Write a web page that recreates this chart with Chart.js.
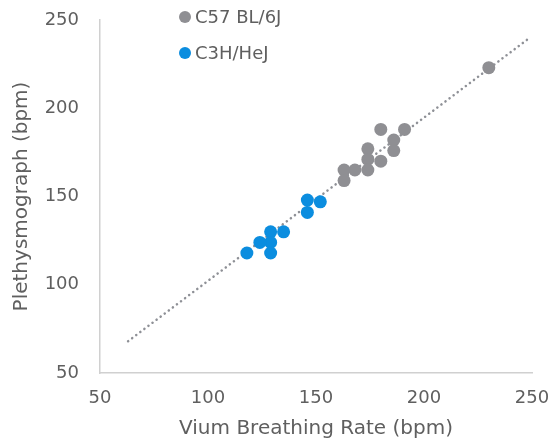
<!DOCTYPE html>
<html>
<head>
<meta charset="utf-8">
<script src="https://cdn.jsdelivr.net/npm/chart.js@4/dist/chart.umd.min.js"></script>
<style>
  html, body { margin: 0; padding: 0; background: #fff; }
  #wrap { width: 558px; height: 443px; }
</style>
</head>
<body>
<div id="wrap"><canvas id="myChart" width="558" height="443"></canvas></div>
<script>
const c57X = [230, 180, 191, 186, 186, 174, 174, 180, 168, 174, 163, 163];
const c57Y = [223, 188, 188, 182, 176, 177, 171, 170, 165, 165, 165, 159];
const c3hX = [146, 152, 146, 129, 135, 129, 124, 129, 118];
const c3hY = [148, 147, 141, 130, 130, 124, 124, 118, 118];
const trendX = [63, 249];
const trendY = [68, 240];
const ticks = [50, 100, 150, 200, 250];

const toPoints = (xs, ys) => xs.map((x, i) => ({ x: x, y: ys[i] }));
const textColor = "#5f5f5f";
const fontFamily = "'DejaVu Sans', sans-serif";

// legend drawn inside the plot, stacked vertically
const stackedLegend = {
    id: "stackedLegend",
    afterDraw(chart) {
        const ctx = chart.ctx;
        const items = chart.data.datasets.filter(d => d.showInLegend);
        ctx.save();
        ctx.font = "18px " + fontFamily;
        ctx.textBaseline = "middle";
        items.forEach((d, i) => {
            const y = 17 + i * 36;
            ctx.fillStyle = d.backgroundColor;
            ctx.beginPath();
            ctx.arc(185, y, 6, 0, Math.PI * 2);
            ctx.fill();
            ctx.fillStyle = textColor;
            ctx.fillText(d.label, 195, y + 1);
        });
        ctx.restore();
    },
};

// tick marks are kept invisible; their length only spaces the labels
const hiddenTicks = (len) => ({
    display: true,
    drawOnChartArea: false,
    drawTicks: true,
    tickLength: len,
    tickColor: "rgba(0,0,0,0)",
});

new Chart(document.getElementById("myChart"), {
    type: "scatter",
    data: {
        datasets: [
            {
                type: "line",
                label: "trend",
                data: toPoints(trendX, trendY),
                borderColor: "#8e9096",
                borderWidth: 2.5,
                borderDash: [0.1, 5],
                borderCapStyle: "round",
                pointRadius: 0,
                fill: false,
                order: 3,
            },
            {
                label: "C57 BL/6J",
                data: toPoints(c57X, c57Y),
                backgroundColor: "#8f8f93",
                borderWidth: 0,
                pointRadius: 6.5,
                showInLegend: true,
                order: 1,
            },
            {
                label: "C3H/HeJ",
                data: toPoints(c3hX, c3hY),
                backgroundColor: "#0b8ddf",
                borderWidth: 0,
                pointRadius: 6.5,
                showInLegend: true,
                order: 2,
            },
        ],
    },
    options: {
        responsive: false,
        animation: false,
        layout: { padding: { top: 20, right: 26, left: 0, bottom: 0 } },
        plugins: {
            legend: { display: false },
            tooltip: { enabled: false },
        },
        scales: {
            x: {
                type: "linear",
                min: 50,
                max: 250,
                afterBuildTicks: (s) => { s.ticks = ticks.map(v => ({ value: v })); },
                afterFit: (s) => { s.height = 70; },
                grid: hiddenTicks(15),
                border: { color: "#d0d0d0", width: 1.5 },
                ticks: { color: textColor, padding: 0, font: { family: fontFamily, size: 18 } },
                title: {
                    display: true,
                    text: "Vium Breathing Rate (bpm)",
                    color: textColor,
                    padding: { top: 8, bottom: 2 },
                    font: { family: fontFamily, size: 20 },
                },
            },
            y: {
                type: "linear",
                min: 50,
                max: 250,
                afterBuildTicks: (s) => { s.ticks = ticks.map(v => ({ value: v })); },
                afterFit: (s) => { s.width = 100; },
                grid: hiddenTicks(19),
                border: { color: "#d0d0d0", width: 1.5 },
                ticks: { color: textColor, padding: 2, font: { family: fontFamily, size: 18 } },
                title: {
                    display: true,
                    text: "Plethysmograph (bpm)",
                    color: textColor,
                    padding: { top: 10 },
                    font: { family: fontFamily, size: 20 },
                },
            },
        },
    },
    plugins: [stackedLegend],
});
</script>
</body>
</html>
